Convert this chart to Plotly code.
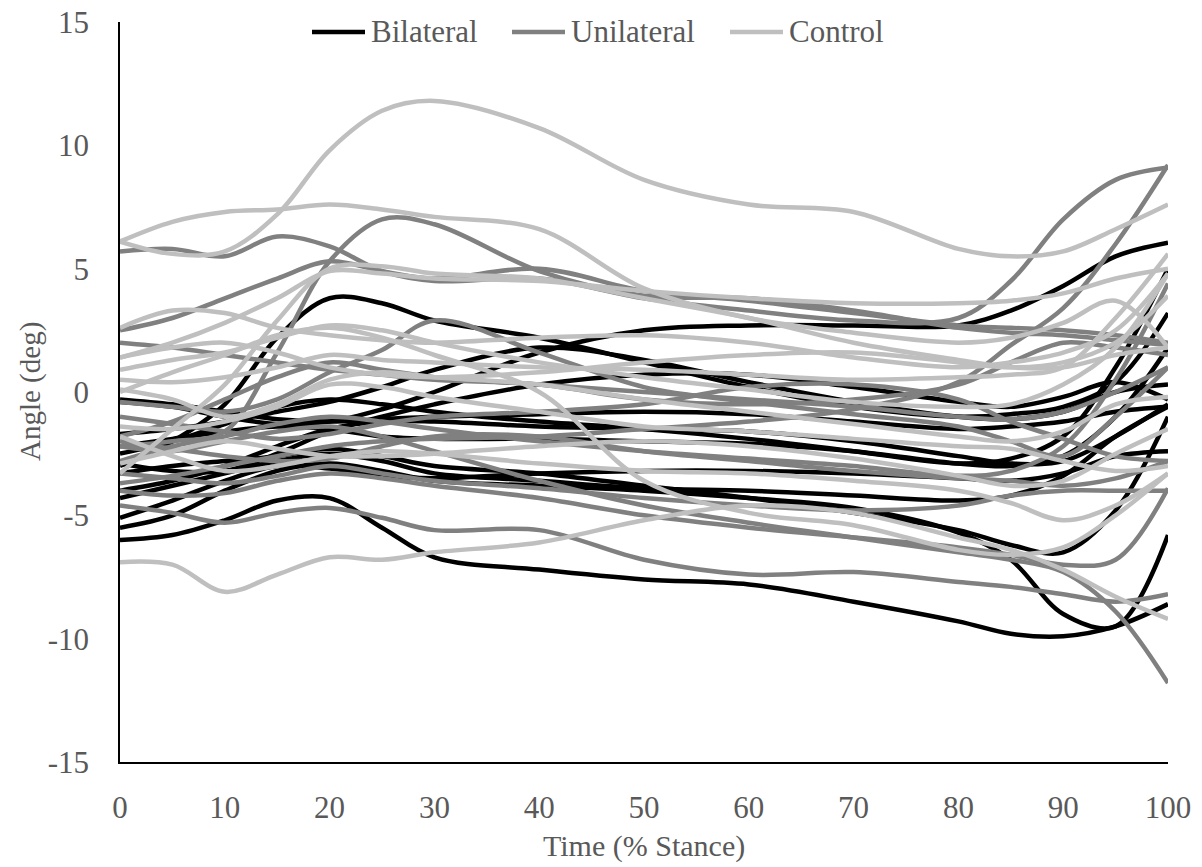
import plotly.graph_objects as go

# Stance-phase sample points (% stance)
stance_pct = [0, 5, 10, 15, 20, 25, 30, 40, 50, 60, 70, 80, 85, 90, 95, 100]

# Bilateral group, one list of angles (deg) per subject
bilateral = [
    [-3.0, -2.0, -0.5, 2.2, 3.8, 3.6, 2.9, 2.2, 1.2, 0.2, -0.6, -1.0, -0.9, -0.6, 0.4, 3.2],
    [-0.4, -0.6, -1.0, -1.3, -1.2, -0.7, 0.0, 1.6, 2.5, 2.7, 2.7, 2.7, 3.3, 4.3, 5.5, 6.05],
    [-6.0, -5.8, -5.2, -4.4, -4.3, -5.5, -6.7, -7.2, -7.6, -7.8, -8.5, -9.3, -9.8, -9.9, -9.5, -8.6],
    [-5.5, -5.0, -4.0, -3.2, -2.9, -3.2, -3.6, -3.8, -4.0, -4.3, -4.7, -5.7, -6.8, -9.0, -9.5, -5.8],
    [-2.5, -2.0, -1.3, -0.6, -0.3, -0.5, -0.8, -1.2, -1.5, -1.9, -2.4, -2.9, -2.7, -1.8, 1.0, 5.0],
    [-1.7, -1.5, -1.2, -0.8, -0.4, 0.2, 0.9, 1.8, 1.3, 0.4, -0.4, -1.0, -1.1, -0.8, 0.0, 0.3],
    [-4.0, -3.6, -3.0, -2.2, -1.5, -1.2, -1.2, -1.4, -1.5, -1.6, -2.0, -2.6, -2.9, -2.8, -1.8, -0.5],
    [-4.3, -3.8, -3.3, -2.8, -2.5, -2.8, -3.3, -3.6, -3.9, -4.0, -4.2, -4.4, -4.2, -3.4, -1.8, -0.6],
    [-5.1, -4.4, -3.6, -3.0, -3.1, -3.4, -3.5, -3.3, -3.2, -3.2, -3.3, -3.5, -3.6, -3.3, -2.6, -2.4],
    [-2.2, -1.9, -1.6, -1.4, -1.5, -1.8, -1.9, -1.9, -2.0, -2.1, -2.4, -2.9, -3.0, -2.6, -1.0, 1.8],
    [-0.3, -0.5, -0.8, -1.1, -1.2, -1.1, -1.0, -0.9, -0.8, -0.9, -1.2, -1.5, -1.4, -1.2, -0.8, -0.6],
    [-3.3, -3.0, -2.8, -2.6, -2.3, -2.6, -3.0, -3.3, -3.8, -4.3, -4.9, -5.6, -6.2, -6.5, -4.8, -1.0],
    [-2.9, -3.2, -3.2, -2.5, -1.6, -1.0, -0.5, 0.3, 0.7, 0.7, 0.2, -0.4, -0.6, -0.2, 0.4, -0.3],
]

# Unilateral group
unilateral = [
    [5.7, 5.8, 5.5, 6.3, 5.9, 4.9, 4.5, 4.6, 3.8, 3.3, 2.9, 3.0, 4.5, 7.0, 8.6, 9.1],
    [-2.2, -2.0, -1.6, 1.6, 5.3, 7.0, 6.8, 4.9, 3.9, 3.8, 3.3, 2.6, 2.4, 2.3, 2.1, 1.9],
    [2.5, 3.0, 3.8, 4.6, 5.3, 4.9, 4.6, 5.0, 4.1, 3.7, 3.2, 2.7, 2.6, 2.5, 2.3, 2.0],
    [2.0, 1.8, 1.5, 1.2, 0.9, 0.7, 0.5, 0.3, -0.3, -0.5, -0.3, 0.3, 1.2, 2.0, 1.8, 1.5],
    [-0.4, -0.6, -0.8, -0.3, 0.8, 1.7, 2.9, 1.6, 0.2, -0.4, -0.9, -1.4, -2.0, -2.6, -1.0, 1.0],
    [-4.6, -4.9, -5.3, -4.9, -4.7, -5.1, -5.6, -5.6, -6.8, -7.4, -7.3, -7.7, -7.9, -8.2, -8.5, -8.2],
    [-2.2, -2.4, -2.0, -1.6, -1.4, -1.8, -2.4, -3.6, -4.6, -5.3, -5.9, -6.5, -6.8, -7.3, -8.9, -11.8],
    [-3.7, -3.4, -3.0, -2.6, -2.2, -2.0, -1.9, -1.8, -1.5, -1.2, -0.7, 0.4, 1.9, 3.4, 6.0, 9.2],
    [-3.3, -3.5, -3.7, -3.4, -3.0, -3.3, -3.6, -3.9, -4.3, -4.6, -4.8, -4.6, -4.2, -4.0, -4.0, -4.0],
    [-2.8, -2.2, -1.8, -1.3, -1.0, -1.2, -1.5, -2.0, -2.4, -2.7, -3.0, -3.4, -3.2, -2.2, 0.5, 4.4],
    [-4.0, -4.2, -4.1, -3.6, -3.3, -3.5, -3.8, -4.3, -5.0, -5.5, -5.9, -6.3, -6.6, -7.0, -6.8, -3.9],
    [-1.0, -1.3, -1.6, -1.9, -1.7, -1.3, -1.0, -0.8, -0.5, 0.2, 0.3, -0.3, -1.2, -1.9, -2.6, -2.8],
    [-1.8, -1.2, -0.3, 0.6, 1.2, 0.9, 0.6, 0.3, 0.0, -0.3, -0.6, -1.0, -1.1, -0.8, 0.0, 1.0],
    [-2.0, -2.3, -2.6, -2.8, -2.7, -2.2, -1.8, -1.8, -2.4, -2.8, -3.2, -3.5, -3.6, -3.8, -3.5, -2.8],
]

# Control group
control = [
    [6.1, 5.6, 5.7, 7.2, 9.8, 11.4, 11.8, 10.7, 8.6, 7.6, 7.3, 5.8, 5.5, 5.7, 6.6, 7.6],
    [6.1, 6.9, 7.3, 7.4, 7.6, 7.4, 7.1, 6.6, 4.2, 3.0, 2.4, 2.0, 2.2, 2.8, 3.7, 1.8],
    [1.4, 2.0, 2.8, 3.8, 4.9, 4.8, 4.6, 4.5, 4.1, 3.8, 3.6, 3.6, 3.7, 4.0, 4.6, 5.0],
    [2.6, 3.3, 3.2, 2.6, 2.3, 2.1, 2.0, 2.2, 2.3, 2.0, 1.4, 1.0, 1.2, 1.6, 2.5, 4.8],
    [-3.3, -1.5, 0.3, 2.9, 5.0, 5.1, 4.8, 4.6, 3.8, 3.0, 2.0, 1.3, 1.0, 1.0, 1.5, 1.8],
    [0.0, 0.8, 1.5, 2.3, 2.6, 2.2, 1.5, 0.0, -3.6, -4.9, -5.4, -6.4, -6.6, -6.3, -5.0, -3.3],
    [-6.9, -7.0, -8.1, -7.4, -6.7, -6.8, -6.5, -6.1, -5.2, -4.6, -4.9, -5.9, -6.4, -7.2, -8.3, -9.2],
    [0.5, 0.4, 0.6, 1.0, 1.5, 1.3, 1.2, 1.0, 0.9, 0.7, 0.5, 0.6, 0.7, 1.0, 3.0, 5.6],
    [0.1, -0.3, -1.0, -0.5, 0.5, 0.8, 0.6, 0.3, -0.3, -0.8, -1.3, -1.8, -2.0, -1.6, -0.5, -0.2],
    [-1.4, -1.5, -1.2, -0.6, 0.3, 0.2, -0.2, -0.8, -1.4, -1.6, -1.9, -2.2, -2.3, -2.8, -3.2, -3.0],
    [-2.9, -2.4, -2.0, -2.3, -2.6, -2.6, -2.5, -2.2, -2.0, -2.2, -2.7, -3.4, -3.8, -3.6, -2.5, -1.5],
    [0.9, 1.3, 1.6, 2.2, 2.7, 2.5, 2.0, 1.2, 0.6, 0.1, -0.4, -0.6, -0.5, 0.3, 1.8, 4.8],
    [-1.8, -2.6, -3.2, -3.0, -2.6, -2.4, -2.5, -2.9, -3.2, -3.3, -3.6, -4.0, -4.5, -5.2, -4.6, -3.3],
    [1.4, 1.8, 2.0, 1.6, 1.0, 0.7, 0.6, 0.8, 1.2, 1.5, 1.6, 1.2, 1.0, 1.2, 2.0, 3.9],
]

group_names = ["Bilateral", "Unilateral", "Control"]
group_colors = ["#000000", "#808080", "#BFBFBF"]
groups = [bilateral, unilateral, control]

x_ticks = list(range(0, 101, 10))
y_ticks = list(range(-15, 16, 5))

FONT = "Times New Roman"
TEXT_COLOR = "#595959"
LINE_W = 4.5

fig = go.Figure()
for name, color, curves in zip(group_names, group_colors, groups):
    for vals in curves:
        fig.add_trace(go.Scatter(
            x=stance_pct, y=vals, mode="lines", name=name,
            line=dict(color=color, width=LINE_W, shape="spline", smoothing=1.0),
            showlegend=False, hoverinfo="skip",
        ))

# Figure geometry (pixels)
W, H = 1202, 867
ML, MR, MT, MB = 120, 34, 22, 105
PW, PH = W - ML - MR, H - MT - MB


def px_x(px):
    return (px - ML) / PW


def px_y(py):
    return (H - MB - py) / PH


def text_font(size):
    return dict(family=FONT, size=size, color=TEXT_COLOR)


# Legend row drawn across the top
legend_y = 32
legend_items = [(312, 365), (512, 565), (730, 783)]
shapes = []
annotations = []
for (x0, x1), name, color in zip(legend_items, group_names, group_colors):
    shapes.append(dict(type="line", xref="paper", yref="paper",
                       x0=px_x(x0), x1=px_x(x1), y0=px_y(legend_y), y1=px_y(legend_y),
                       line=dict(color=color, width=LINE_W)))
    annotations.append(dict(xref="paper", yref="paper", x=px_x(x1 + 4), y=px_y(legend_y),
                            text=name, showarrow=False, xanchor="left", yanchor="middle",
                            font=text_font(31)))

# Axis titles
annotations.append(dict(xref="paper", yref="paper", x=0.5, y=px_y(846),
                        text="Time (% Stance)", showarrow=False,
                        xanchor="center", yanchor="middle", font=text_font(30)))
annotations.append(dict(xref="paper", yref="paper", x=px_x(30), y=0.5,
                        text="Angle (deg)", showarrow=False, textangle=-90,
                        xanchor="center", yanchor="middle", font=text_font(29)))

fig.update_layout(
    width=W, height=H,
    margin=dict(l=ML, r=MR, t=MT, b=MB),
    paper_bgcolor="white", plot_bgcolor="white",
    showlegend=False,
    font=text_font(31),
    shapes=shapes, annotations=annotations,
    xaxis=dict(
        range=[0, 100], tickvals=x_ticks, ticktext=[str(v) for v in x_ticks],
        showgrid=False, zeroline=False, showline=True, linecolor="#000000", linewidth=1.5,
        ticks="", ticklabelstandoff=17, automargin=False, tickfont=text_font(31),
    ),
    yaxis=dict(
        range=[-15, 15], tickvals=y_ticks, ticktext=[str(v) for v in y_ticks],
        showgrid=False, zeroline=False, showline=True, linecolor="#000000", linewidth=1.5,
        ticks="", ticklabelstandoff=23, automargin=False, tickfont=text_font(31),
    ),
)

fig.write_html("out.html")
